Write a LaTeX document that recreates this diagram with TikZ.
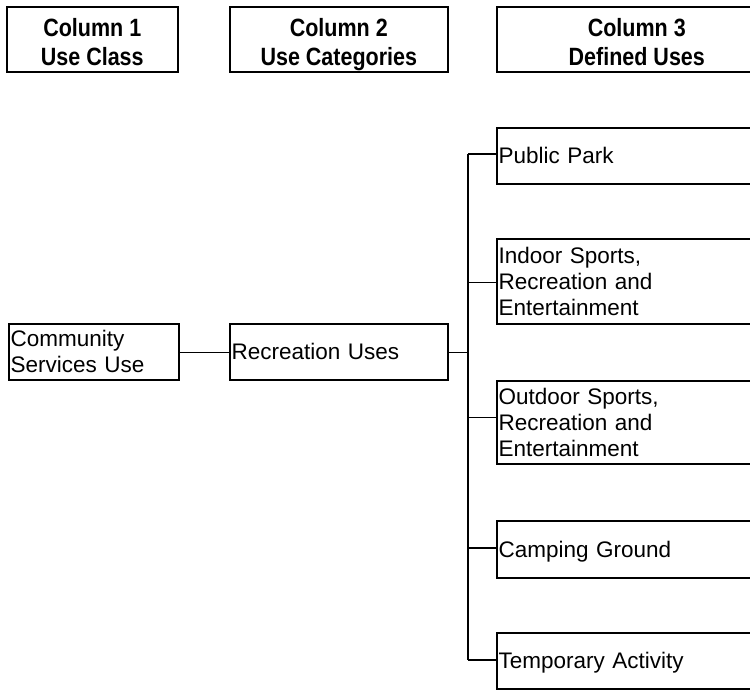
\documentclass[tikz,border=0pt]{standalone}
\usepackage{fontspec}
\setmainfont{Liberation Sans}
\newfontfamily\headfont{Liberation Sans}[FakeStretch=0.86]
\usetikzlibrary{positioning}

% fixed first-line height and no last-line depth, so all headings share baselines
\newcommand\headtop{\rule{0pt}{24pt}}
\newcommand\nodepth[1]{\raisebox{0pt}[\height][0pt]{#1}}

\tikzset{
  headbox/.style={draw, line width=1.6pt, anchor=north west, inner sep=0pt,
    align=center, font=\headfont\bfseries\fontsize{25}{29}\selectfont},
  usebox/.style={draw, line width=1.6pt, anchor=north west, inner xsep=1.8pt, inner ysep=0pt,
    align=left, font=\fontsize{22.5}{26.3}\selectfont},
  thinlink/.style={line width=1pt},
  thicklink/.style={line width=2pt},
}

\begin{document}
\begin{tikzpicture}[x=1pt,y=-1pt]
  \useasboundingbox (0,0) rectangle (750,689);
  \clip (0,0) rectangle (750,689);

  % column headings
  \node[headbox, minimum width=171pt, minimum height=65pt] (h1) at (6,6)
    {\headtop Column 1\\\nodepth{Use Class}};
  \node[headbox, minimum width=218pt, minimum height=65pt] (h2) at (229,6)
    {\headtop Column 2\\\nodepth{Use Categories}};
  \node[headbox, minimum width=280pt, minimum height=65pt] (h3) at (496,6)
    {\headtop Column 3\\\nodepth{Defined Uses}};

  % column 1 and 2
  \node[usebox, text width=166.4pt, minimum height=56pt] (cs) at (8,323) {Community\\Services Use};
  \node[usebox, text width=214.4pt, minimum height=56pt] (rec) at (229,323) {Recreation Uses};

  % column 3
  \node[usebox, text width=276.4pt, minimum height=56pt] (pp) at (496,127) {Public Park};
  \node[usebox, text width=276.4pt, minimum height=85pt] (ind) at (496,238) {Indoor Sports,\\Recreation and\\Entertainment};
  \node[usebox, text width=276.4pt, minimum height=83pt] (out) at (496,380) {Outdoor Sports,\\Recreation and\\Entertainment};
  \node[usebox, text width=276.4pt, minimum height=57pt] (camp) at (496,520) {\nodepth{Camping Ground}};
  \node[usebox, text width=276.4pt, minimum height=56pt] (temp) at (496,632) {\nodepth{Temporary Activity}};

  % branching bus
  \coordinate (bpp)   at (468,154);
  \coordinate (brec)  at (468,352);
  \coordinate (bind)  at (468,282);
  \coordinate (bout)  at (468,417);
  \coordinate (bcamp) at (468,548);
  \coordinate (btemp) at (468,660);

  \draw[thinlink] (cs.east |- brec) -- (rec.west |- brec);
  \draw[thinlink] (rec.east |- brec) -- (brec);
  \draw[thicklink] (bpp) -- (btemp);
  \draw[thicklink] (bpp) -- (bpp -| pp.west);
  \draw[thinlink] (bind) -- (bind -| ind.west);
  \draw[thinlink] (bout) -- (bout -| out.west);
  \draw[thicklink] (bcamp) -- (bcamp -| camp.west);
  \draw[thicklink] (btemp) -- (btemp -| temp.west);
\end{tikzpicture}
\end{document}
